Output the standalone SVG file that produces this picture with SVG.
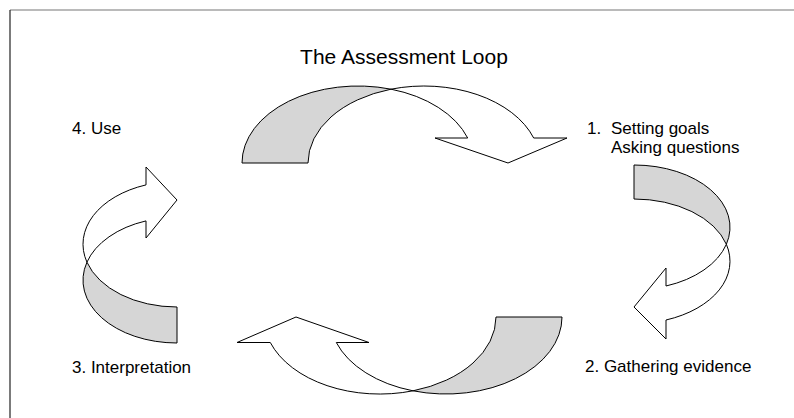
<svg xmlns="http://www.w3.org/2000/svg" width="794" height="418" viewBox="0 0 794 418">
<style>
.lbl{font-family:"Liberation Sans",Arial,Helvetica,sans-serif;font-size:17px;fill:#000}
.title{font-family:"Liberation Sans",Arial,Helvetica,sans-serif;font-size:21px;fill:#000}
.back{fill:#d6d6d6;stroke:#000;stroke-width:1;stroke-linejoin:round}
.front{fill:#fff;stroke:#000;stroke-width:1;stroke-linejoin:miter}
</style>
<rect x="0" y="0" width="794" height="418" fill="#fff"/>
<g id="frame">
<line x1="10" y1="10" x2="794" y2="10" stroke="#777" stroke-width="1.2"/>
<line x1="10" y1="10" x2="10" y2="418" stroke="#222" stroke-width="1.2"/>
</g>
<text class="title" x="404" y="64" text-anchor="middle">The Assessment Loop</text>
<g id="connectors">
<g id="arrow-top">
<path class="back" d="M242 163 A116 77 0 0 1 391 89.18 A116 77 0 0 0 308 163 Z"/>
<path class="front" d="M391 89.18 A116 77 0 0 1 533.7 138 L567 138 L508 163 L435 138 L467.7 138 A116 77 0 0 0 391 89.18 Z"/>
</g>
<g id="arrow-right">
<path class="back" d="M634 165 A96 62.3 0 0 1 726.36 244.3 A96 62.3 0 0 0 634 199 Z"/>
<path class="front" d="M726.36 244.3 A96 62.3 0 0 1 666 320 L666 339 L634 307 L666 268 L666 286 A96 62.3 0 0 0 726.36 244.3 Z"/>
</g>
<g id="arrow-bottom">
<path class="back" d="M562 317 A116 77 0 0 1 413 390.82 A116 77 0 0 0 496 317 Z"/>
<path class="front" d="M413 390.82 A116 77 0 0 1 270.3 342.5 L237 342.5 L296 317 L369 342.5 L336.3 342.5 A116 77 0 0 0 413 390.82 Z"/>
</g>
<g id="arrow-left">
<path class="back" d="M177 343 A94 62.8 0 0 1 86.94 262.2 A94 62.8 0 0 0 177 307 Z"/>
<path class="front" d="M86.94 262.2 A94 62.8 0 0 1 146 184.9 L146 167 L177 200 L146 238 L146 220.9 A94 62.8 0 0 0 86.94 262.2 Z"/>
</g>
</g>
<g id="node-use"><text class="lbl" x="72" y="134">4. Use</text></g>
<g id="node-goals">
<text class="lbl" x="587" y="134">1.</text>
<text class="lbl" x="611" y="134">Setting goals</text>
<text class="lbl" x="611" y="153">Asking questions</text>
</g>
<g id="node-interpretation"><text class="lbl" x="72" y="373">3. Interpretation</text></g>
<g id="node-evidence"><text class="lbl" x="585" y="372">2. Gathering evidence</text></g>
</svg>
